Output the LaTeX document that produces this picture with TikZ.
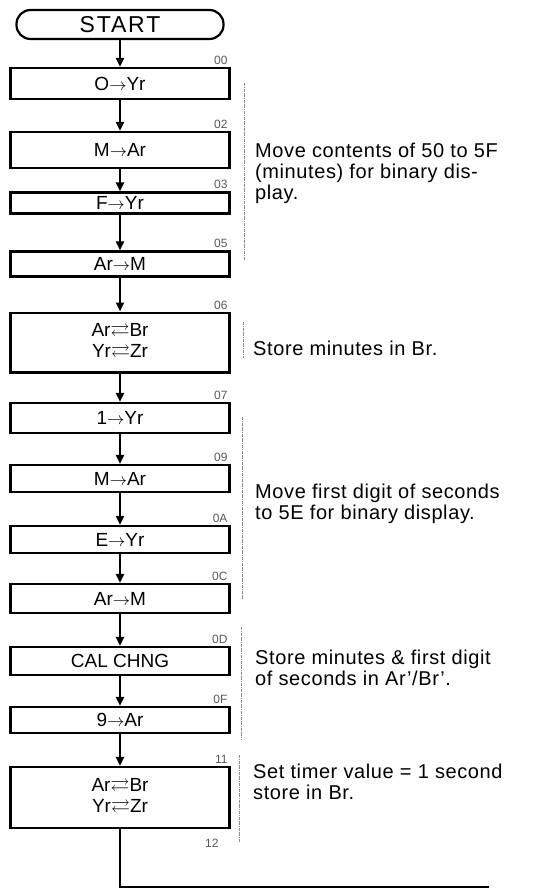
\documentclass[tikz,border=0pt]{standalone}
\usepackage{amssymb}
\usepackage{fontspec}
\setmainfont{Liberation Sans}
\newfontfamily\notefont[LetterSpace=3,Ligatures=TeX]{Liberation Sans}
\newfontfamily\startfont[LetterSpace=8]{Liberation Sans}
\usetikzlibrary{arrows.meta}
\newcommand{\mv}{$\rightarrow$}
\newcommand{\xch}{$\rightleftarrows$}
\begin{document}
\begin{tikzpicture}[x=1pt,y=-1pt,
  every node/.style={font=\fontsize{19}{21}\selectfont},
  startbox/.style={draw,line width=2.2pt,rounded corners=14pt,minimum width=207pt,minimum height=29pt,inner sep=0pt,font=\startfont\fontsize{23}{23}\selectfont},
  stepbox/.style={draw,line width=2.4pt,minimum width=219pt,inner sep=0pt,align=center},
  flow/.style={line width=2.4pt,-{Triangle[length=9pt,width=8pt]}},
  addr/.style={font=\fontsize{12}{12}\selectfont,text=black!65,inner sep=0pt,anchor=south east},
  note/.style={align=left,anchor=north west,inner sep=0pt,font=\notefont\fontsize{20}{21}\selectfont},
  bracket/.style={black!45,line width=0.6pt,densely dashdotted}
]
  \useasboundingbox (0,0) rectangle (552,890);
  \node[startbox] (start) at (120,24.5) {START};
  \foreach \n/\y/\h/\txt/\adr in {
    1/83.5/31/{O\mv Yr}/00,
    2/150/36/{M\mv Ar}/02,
    3/203/21/{F\mv Yr}/03,
    4/264/25/{Ar\mv M}/05,
    5/342.5/59.6/{Ar\xch Br\\Yr\xch Zr}/06,
    6/418/30/{1\mv Yr}/07,
    7/478.5/27/{M\mv Ar}/09,
    8/539.5/27/{E\mv Yr}/0A,
    9/598.5/29/{Ar\mv M}/0C,
    10/661/28/{CAL CHNG}/0D,
    11/720/26/{9\mv Ar}/0F,
    12/797.5/61/{Ar\xch Br\\Yr\xch Zr}/11}
  {
    \node[stepbox,minimum height=\h pt] (b\n) at (120,\y) {\txt};
    \node[addr] (a\n) at ([xshift=-3pt,yshift=2pt]b\n.north east) {\adr};
  }
  \node[addr,anchor=north east] (a13) at ([xshift=-12pt,yshift=-10pt]b12.south east) {12};
  \draw[flow] (start.south) -- (b1.north);
  \foreach \i [count=\j from 2] in {1,...,11}
    \draw[flow] (b\i.south) -- (b\j.north);
  \coordinate (loopend) at (489,887);
  \draw[line width=2.4pt] (b12.south) |- (loopend);
  \node[note] (c1) at (255,143) {Move contents of 50 to 5F\\(minutes) for binary dis-\\play.};
  \node[note] (c2) at (253,341) {Store minutes in Br.};
  \node[note] (c3) at (255,484) {Move first digit of seconds\\to 5E for binary display.};
  \node[note] (c4) at (255,650) {Store minutes \& first digit\\of seconds in Ar’/Br’.};
  \node[note] (c5) at (253,764) {Set timer value = 1 second\\store in Br.};
  \draw[bracket] (244,83) -- (244,260);
  \draw[bracket] (243,322) -- (243,358);
  \draw[bracket] (242,417) -- (242,600);
  \draw[bracket] (241,627) -- (241,740);
  \draw[bracket] (239,755) -- (239,843);
\end{tikzpicture}
\end{document}
